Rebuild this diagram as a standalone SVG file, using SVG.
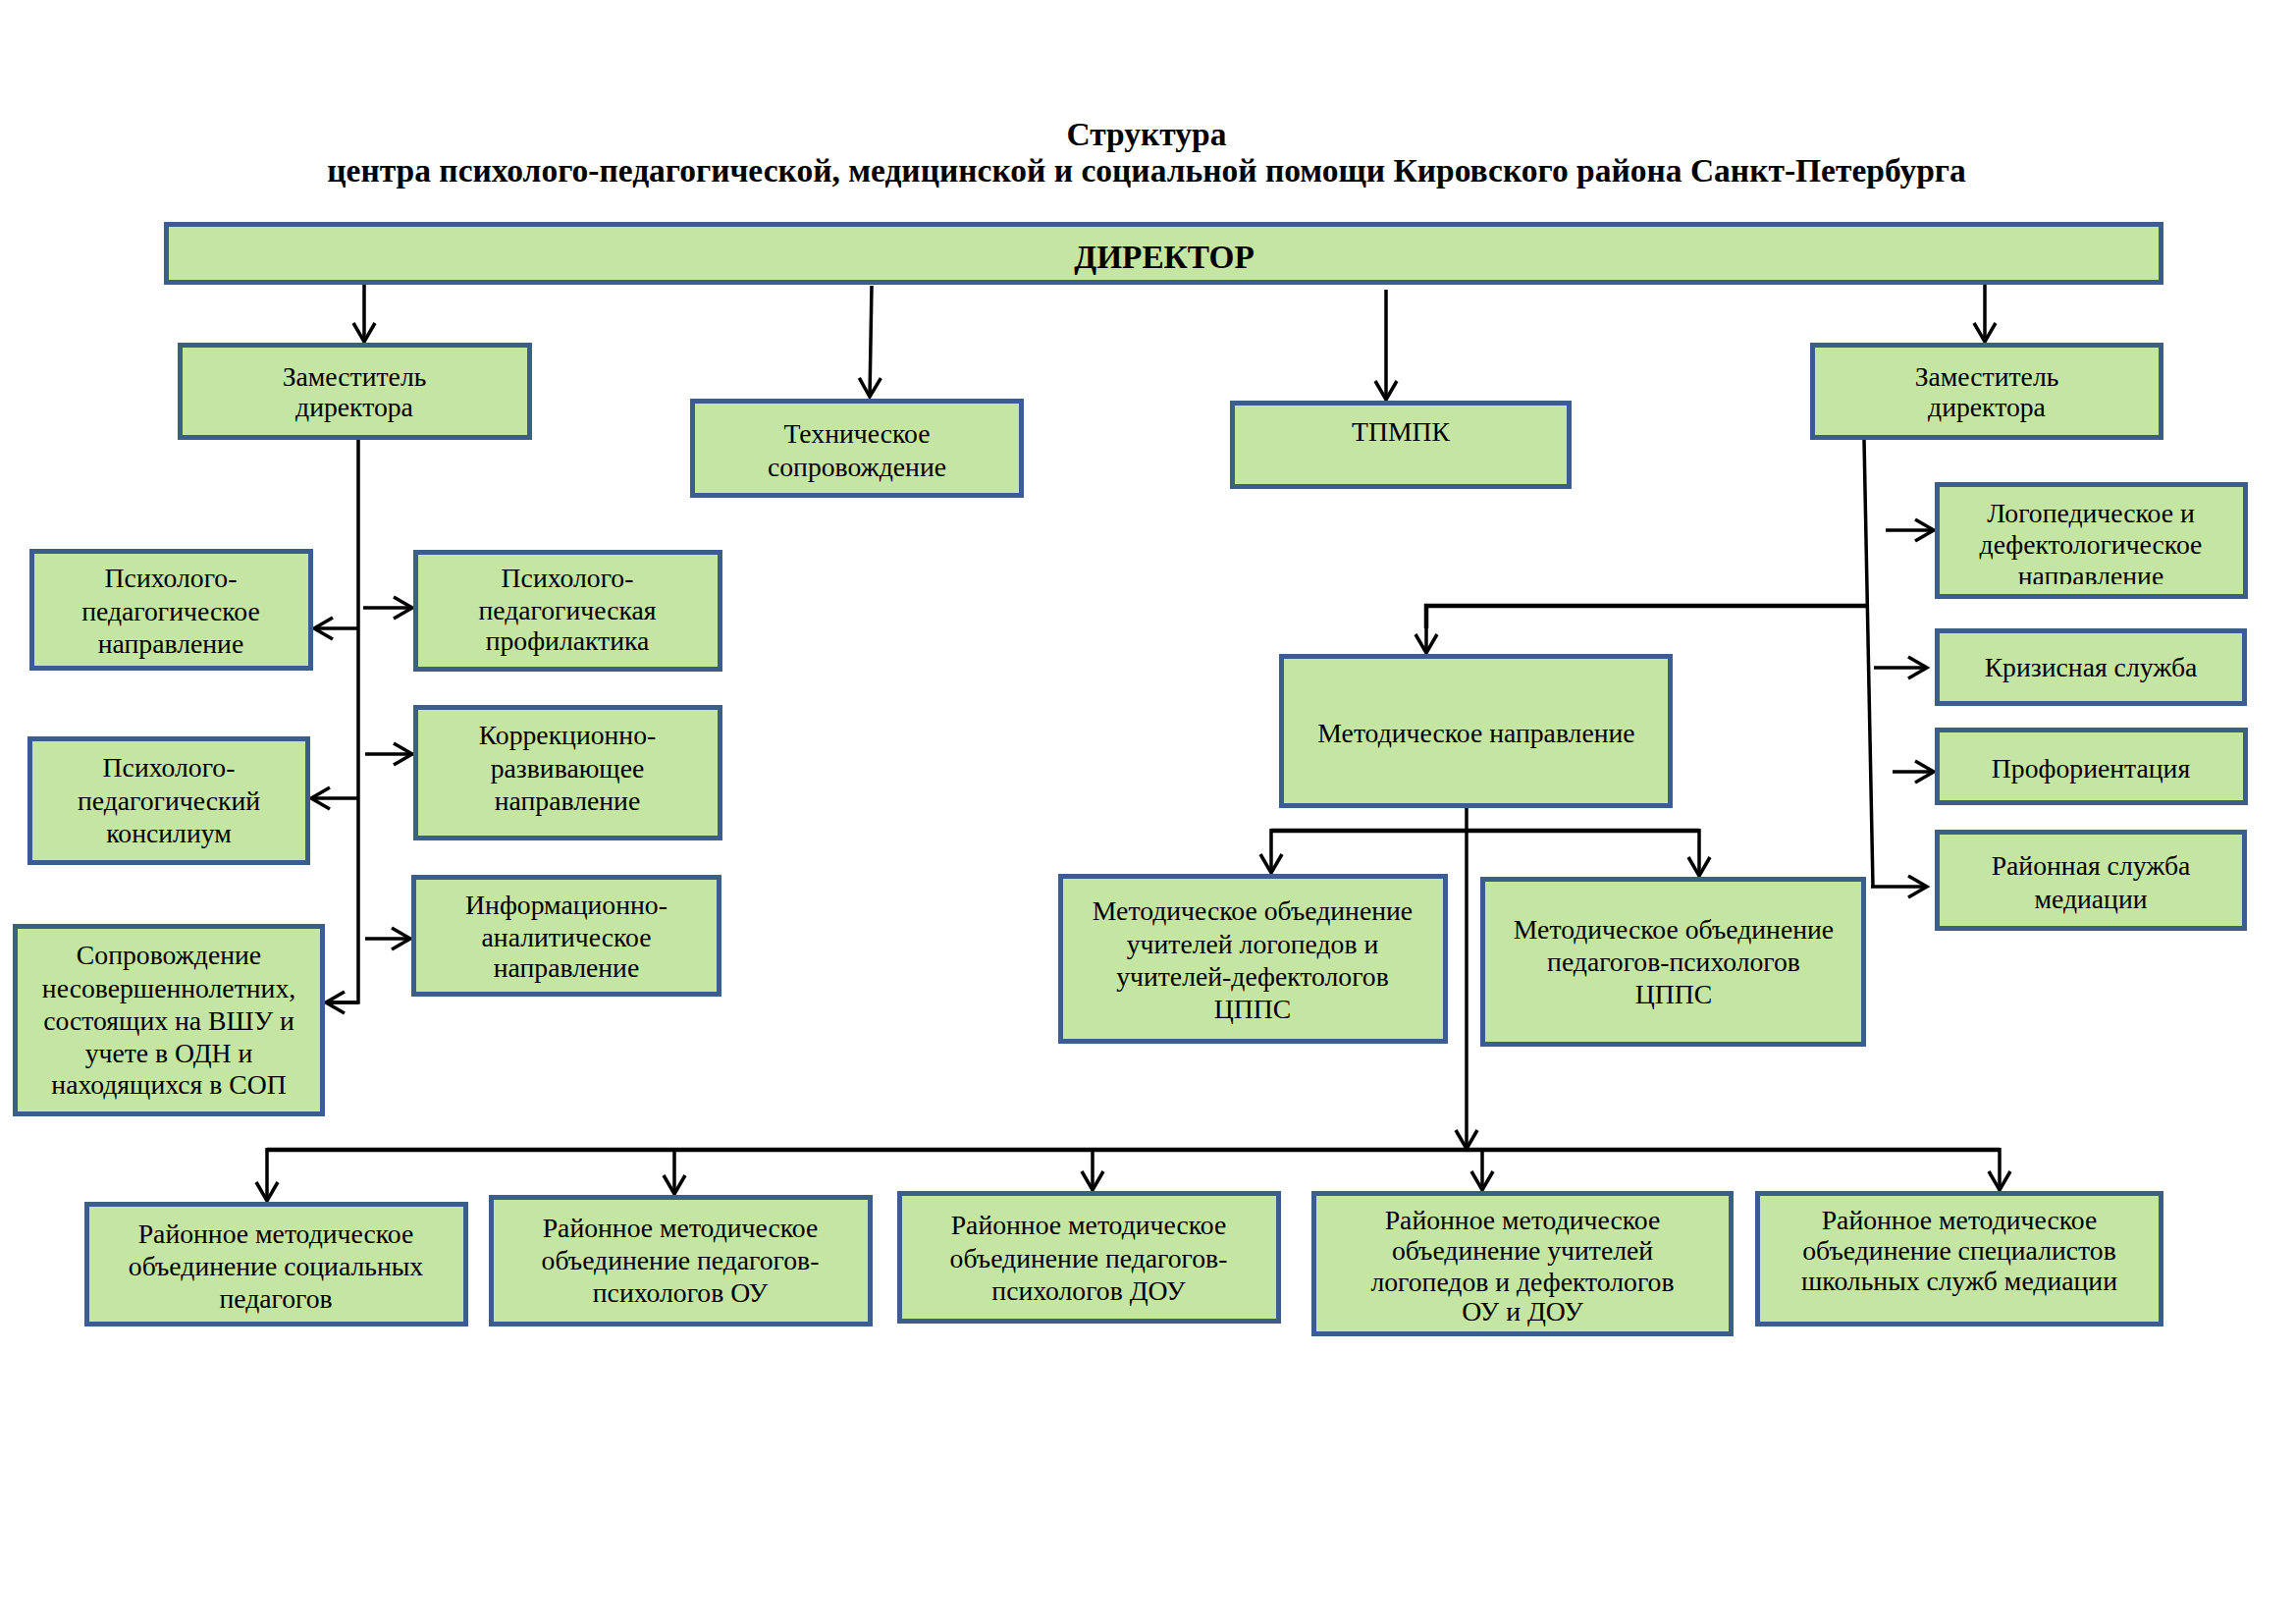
<svg xmlns="http://www.w3.org/2000/svg" width="2339" height="1654" viewBox="0 0 2339 1654">
<style>
.bx{fill:#C5E5A3;stroke:#3C5E8C;stroke-width:5}
.t{font-family:"Liberation Serif","Times New Roman",serif;font-size:27.7px;fill:#000;text-anchor:middle}
.tb{font-family:"Liberation Serif","Times New Roman",serif;font-weight:bold;fill:#000;text-anchor:middle}
.ln{fill:none;stroke:#000;stroke-width:3.5}
.bus{fill:none;stroke:#000;stroke-width:4.5}
.ar{fill:none;stroke:#000;stroke-width:3.5;marker-end:url(#ah)}
</style>
<defs>
<marker id="ah" markerUnits="userSpaceOnUse" markerWidth="30" markerHeight="30" viewBox="-22 -15 26 30" refX="0" refY="0" orient="auto">
<path d="M-19,-11 L0,0 L-19,11" fill="none" stroke="#000" stroke-width="3.5"/>
</marker>
<clipPath id="clipLogo"><rect x="1971" y="491" width="319" height="104"/></clipPath>
</defs>
<rect width="2339" height="1654" fill="#fff"/>
<g id="title">
<text class="tb" x="1168" y="148" font-size="33.5">Структура</text>
<text class="tb" x="1168" y="185" font-size="33.5">центра психолого-педагогической, медицинской и социальной помощи Кировского района Санкт-Петербурга</text>
</g>
<g id="connectors">
<line class="ar" x1="371" y1="290" x2="371" y2="348"/>
<line class="ar" x1="888" y1="291" x2="886" y2="404"/>
<line class="ar" x1="1412" y1="295" x2="1412" y2="407"/>
<line class="ar" x1="2022" y1="290" x2="2022" y2="348"/>
<polyline class="ln" points="365,448 365,1021 333,1021"/>
<line class="ar" x1="365" y1="640" x2="320" y2="640"/>
<line class="ar" x1="365" y1="813" x2="317" y2="813"/>
<line class="ar" x1="365" y1="1021" x2="332" y2="1021"/>
<line class="ar" x1="370" y1="619" x2="420" y2="619"/>
<line class="ar" x1="372" y1="768" x2="420" y2="768"/>
<line class="ar" x1="372" y1="956" x2="418" y2="956"/>
<line class="ln" x1="1899" y1="448" x2="1908" y2="903"/>
<polyline class="bus" points="1902,617 1453,617 1453,640"/>
<line class="ar" x1="1453" y1="615" x2="1453" y2="665"/>
<line class="ar" x1="1921" y1="540" x2="1970" y2="540"/>
<line class="ar" x1="1909" y1="680" x2="1963" y2="680"/>
<line class="ar" x1="1928" y1="786" x2="1970" y2="786"/>
<line class="ar" x1="1906" y1="903" x2="1963" y2="903"/>
<line class="ar" x1="1494" y1="823" x2="1494" y2="1170"/>
<polyline class="bus" points="1295,846 1731,846"/>
<line class="ar" x1="1295" y1="844" x2="1295" y2="889"/>
<line class="ar" x1="1731" y1="844" x2="1731" y2="892"/>
<polyline class="bus" points="272,1171 2037,1171"/>
<line class="ar" x1="272" y1="1169" x2="272" y2="1223"/>
<line class="ar" x1="687" y1="1169" x2="687" y2="1216"/>
<line class="ar" x1="1113" y1="1169" x2="1113" y2="1212"/>
<line class="ar" x1="1510" y1="1169" x2="1510" y2="1212"/>
<line class="ar" x1="2037" y1="1169" x2="2037" y2="1212"/>
</g>
<g id="director"><rect class="bx" x="169.5" y="228.5" width="2032" height="59"/><text class="tb" x="1186" y="273" font-size="33.3">ДИРЕКТОР</text></g>
<g id="deputy-left"><rect class="bx" x="183.5" y="351.5" width="356" height="94"/><text class="t"><tspan x="361" y="393">Заместитель</tspan><tspan x="361" y="424">директора</tspan></text></g>
<g id="tech"><rect class="bx" x="705.5" y="408.5" width="335" height="96"/><text class="t"><tspan x="873" y="451">Техническое</tspan><tspan x="873" y="485">сопровождение</tspan></text></g>
<g id="tpmpk"><rect class="bx" x="1255.5" y="410.5" width="343" height="85"/><text class="t" x="1427" y="449">ТПМПК</text></g>
<g id="deputy-right"><rect class="bx" x="1846.5" y="351.5" width="355" height="94"/><text class="t"><tspan x="2024" y="393">Заместитель</tspan><tspan x="2024" y="424">директора</tspan></text></g>
<g id="pp-napr"><rect class="bx" x="32.5" y="561.5" width="284" height="119"/><text class="t"><tspan x="174" y="598">Психолого-</tspan><tspan x="174" y="632">педагогическое</tspan><tspan x="174" y="665">направление</tspan></text></g>
<g id="pp-prof"><rect class="bx" x="423.5" y="562.5" width="310" height="119"/><text class="t"><tspan x="578" y="598">Психолого-</tspan><tspan x="578" y="631">педагогическая</tspan><tspan x="578" y="662">профилактика</tspan></text></g>
<g id="pp-kons"><rect class="bx" x="30.5" y="752.5" width="283" height="126"/><text class="t"><tspan x="172" y="791">Психолого-</tspan><tspan x="172" y="825">педагогический</tspan><tspan x="172" y="858">консилиум</tspan></text></g>
<g id="korr"><rect class="bx" x="423.5" y="720.5" width="310" height="133"/><text class="t"><tspan x="578" y="758">Коррекционно-</tspan><tspan x="578" y="792">развивающее</tspan><tspan x="578" y="825">направление</tspan></text></g>
<g id="inform"><rect class="bx" x="421.5" y="893.5" width="311" height="119"/><text class="t"><tspan x="577" y="931">Информационно-</tspan><tspan x="577" y="964">аналитическое</tspan><tspan x="577" y="995">направление</tspan></text></g>
<g id="soprov"><rect class="bx" x="15.5" y="943.5" width="313" height="191"/><text class="t"><tspan x="172" y="982">Сопровождение</tspan><tspan x="172" y="1016">несовершеннолетних,</tspan><tspan x="172" y="1049">состоящих на ВШУ и</tspan><tspan x="172" y="1082">учете в ОДН и</tspan><tspan x="172" y="1114">находящихся в СОП</tspan></text></g>
<g id="logoped"><rect class="bx" x="1973.5" y="493.5" width="314" height="114"/><text class="t" clip-path="url(#clipLogo)"><tspan x="2130" y="532">Логопедическое и</tspan><tspan x="2130" y="564">дефектологическое</tspan><tspan x="2130" y="596">направление</tspan></text></g>
<g id="krizis"><rect class="bx" x="1973.5" y="642.5" width="313" height="74"/><text class="t" x="2130" y="689">Кризисная служба</text></g>
<g id="proforient"><rect class="bx" x="1973.5" y="743.5" width="314" height="74"/><text class="t" x="2130" y="792">Профориентация</text></g>
<g id="mediacia"><rect class="bx" x="1973.5" y="847.5" width="313" height="98"/><text class="t"><tspan x="2130" y="891">Районная служба</tspan><tspan x="2130" y="925">медиации</tspan></text></g>
<g id="metod"><rect class="bx" x="1305.5" y="668.5" width="396" height="152"/><text class="t" x="1504" y="756">Методическое направление</text></g>
<g id="mo-logo"><rect class="bx" x="1080.5" y="892.5" width="392" height="168"/><text class="t"><tspan x="1276" y="937">Методическое объединение</tspan><tspan x="1276" y="971">учителей логопедов и</tspan><tspan x="1276" y="1004">учителей-дефектологов</tspan><tspan x="1276" y="1037">ЦППС</tspan></text></g>
<g id="mo-psych"><rect class="bx" x="1510.5" y="895.5" width="388" height="168"/><text class="t"><tspan x="1705" y="956">Методическое объединение</tspan><tspan x="1705" y="989">педагогов-психологов</tspan><tspan x="1705" y="1022">ЦППС</tspan></text></g>
<g id="rmo-soc"><rect class="bx" x="88.5" y="1226.5" width="386" height="122"/><text class="t"><tspan x="281" y="1266">Районное методическое</tspan><tspan x="281" y="1299">объединение социальных</tspan><tspan x="281" y="1332">педагогов</tspan></text></g>
<g id="rmo-ou"><rect class="bx" x="500.5" y="1219.5" width="386" height="129"/><text class="t"><tspan x="693" y="1260">Районное методическое</tspan><tspan x="693" y="1293">объединение педагогов-</tspan><tspan x="693" y="1326">психологов ОУ</tspan></text></g>
<g id="rmo-dou"><rect class="bx" x="916.5" y="1215.5" width="386" height="130"/><text class="t"><tspan x="1109" y="1257">Районное методическое</tspan><tspan x="1109" y="1291">объединение педагогов-</tspan><tspan x="1109" y="1324">психологов ДОУ</tspan></text></g>
<g id="rmo-logo"><rect class="bx" x="1338.5" y="1215.5" width="425" height="143"/><text class="t"><tspan x="1551" y="1252">Районное методическое</tspan><tspan x="1551" y="1283">объединение учителей</tspan><tspan x="1551" y="1315">логопедов и дефектологов</tspan><tspan x="1551" y="1345">ОУ и ДОУ</tspan></text></g>
<g id="rmo-media"><rect class="bx" x="1790.5" y="1215.5" width="411" height="133"/><text class="t"><tspan x="1996" y="1252">Районное методическое</tspan><tspan x="1996" y="1283">объединение специалистов</tspan><tspan x="1996" y="1314">школьных служб медиации</tspan></text></g>
</svg>
